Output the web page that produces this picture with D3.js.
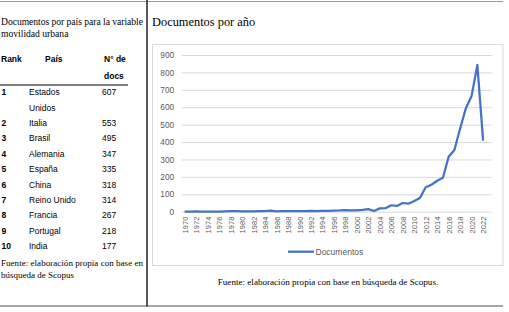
<!DOCTYPE html>
<html>
<head>
<meta charset="utf-8">
<style>
  body { margin: 0; background: #fff; }
  svg { display: block; }
  .serif { font-family: "Liberation Serif", "Times New Roman", serif; fill: #000; }
  .sans { font-family: "Liberation Sans", Arial, sans-serif; fill: #000; }
</style>
</head>
<body>
<div class="chart"></div>
<script src="https://d3js.org/d3.v7.min.js"></script>
<script>
  // datos de la tabla (izquierda)
  const ranks = ['1', '2', '3', '4', '5', '6', '7', '8', '9', '10']
  const countries = [['Estados', 'Unidos'], ['Italia'], ['Brasil'], ['Alemania'], ['España'],
                     ['China'], ['Reino Unido'], ['Francia'], ['Portugal'], ['India']]
  const docsByCountry = [607, 553, 495, 347, 335, 318, 314, 267, 218, 177]

  // datos del gráfico: documentos por año
  const years = [1970, 1971, 1972, 1973, 1974, 1975, 1976, 1977, 1978, 1979,
                 1980, 1981, 1982, 1983, 1984, 1985, 1986, 1987, 1988, 1989,
                 1990, 1991, 1992, 1993, 1994, 1995, 1996, 1997, 1998, 1999,
                 2000, 2001, 2002, 2003, 2004, 2005, 2006, 2007, 2008, 2009,
                 2010, 2011, 2012, 2013, 2014, 2015, 2016, 2017, 2018, 2019,
                 2020, 2021, 2022]
  const documentos = [1, 1, 2, 1, 1, 1, 1, 2, 3, 3,
                      2, 2, 2, 3, 3, 6, 2, 4, 3, 3,
                      4, 4, 5, 4, 5, 5, 6, 7, 9, 8,
                      8, 10, 15, 4, 19, 20, 37, 33, 50, 46,
                      61, 79, 140, 155, 178, 195, 316, 354, 478, 594,
                      665, 843, 408]
  const yTicks = [0, 100, 200, 300, 400, 500, 600, 700, 800, 900]
  const xTicks = years.filter(y => y % 2 === 0)

  const width = 509, height = 312

  const svg = d3.select('.chart')
                .append('svg')
                .attr('width', width)
                .attr('height', height)

  // marco de la página
  svg.append('line').attr('x1', 0).attr('x2', 503).attr('y1', 1.5).attr('y2', 1.5)
     .attr('stroke', '#9a9a9a').attr('stroke-width', 1.2)
  svg.append('line').attr('x1', 0).attr('x2', 503).attr('y1', 306).attr('y2', 306)
     .attr('stroke', '#8a8a8a').attr('stroke-width', 1.5)
  svg.append('line').attr('x1', 147).attr('x2', 147).attr('y1', 0).attr('y2', 306.5)
     .attr('stroke', '#222').attr('stroke-width', 1.5)

  // ---- tabla izquierda ----
  const left = svg.append('g')
  left.append('text').attr('class', 'serif').attr('x', 1).attr('y', 25)
      .attr('textLength', 142).attr('lengthAdjust', 'spacing')
      .style('font-size', '9.6px')
      .text('Documentos por país para la variable')
  left.append('text').attr('class', 'serif').attr('x', 1).attr('y', 36.5)
      .style('font-size', '9.6px')
      .text('movilidad urbana')

  const hdr = left.append('g').attr('class', 'sans').style('font-size', '8.5px').style('font-weight', 'bold')
  hdr.append('text').attr('x', 1).attr('y', 62).text('Rank')
  hdr.append('text').attr('x', 45).attr('y', 62).text('País')
  hdr.append('text').attr('x', 104).attr('y', 62).text('N° de')
  hdr.append('text').attr('x', 104).attr('y', 79).text('docs')

  left.append('line').attr('x1', 0).attr('x2', 128).attr('y1', 85).attr('y2', 85)
      .attr('stroke', '#555').attr('stroke-width', 1.6)

  // filas: la primera ocupa dos líneas
  const rowY = d3.scaleLinear().domain([1, 9]).range([126, 249.2])
  const rows = left.selectAll('.row')
                   .data(ranks)
                   .join('g')
                   .attr('class', 'row sans')
                   .style('font-size', '8.5px')
                   .attr('transform', (d, i) => `translate(0,${i === 0 ? 95 : rowY(i)})`)
  rows.append('text').attr('x', 1.5)
      .style('font-weight', 'bold').text(d => d)
  rows.append('text').attr('x', 29)
      .selectAll('tspan')
      .data((d, i) => countries[i])
      .join('tspan')
      .attr('x', 29)
      .attr('dy', (d, i) => i === 0 ? 0 : 15.5)
      .text(d => d)
  rows.append('text').attr('x', 102).text((d, i) => docsByCountry[i])

  left.append('text').attr('class', 'serif').attr('x', 1).attr('y', 266)
      .attr('textLength', 142).attr('lengthAdjust', 'spacing')
      .style('font-size', '9px')
      .text('Fuente: elaboración propia con base en')
  left.append('text').attr('class', 'serif').attr('x', 1).attr('y', 278)
      .style('font-size', '9px')
      .text('búsqueda de Scopus')

  // ---- gráfico derecho ----
  svg.append('text').attr('class', 'serif').attr('x', 152).attr('y', 26)
     .style('font-size', '12.4px').text('Documentos por año')

  svg.append('rect').attr('x', 152.5).attr('y', 44.5).attr('width', 350.5).attr('height', 221)
     .attr('fill', '#fff').attr('stroke', '#d9d9d9').attr('stroke-width', 1)

  const plotLeft = 181.7, plotRight = 491.7

  const xScale = d3.scalePoint()
                   .domain(years)
                   .range([184.6, 483.1])

  const yScale = d3.scaleLinear()
                   .domain([0, 900])
                   .range([211.7, 55])

  // líneas de cuadrícula y etiquetas del eje Y
  const yAxis = d3.axisLeft(yScale)
                  .tickValues(yTicks)
                  .tickSize(-(plotRight - plotLeft))
                  .tickPadding(7.5)
  const yAxisGroup = svg.append('g')
                        .attr('transform', `translate(${plotLeft},0)`)
                        .call(yAxis)
  yAxisGroup.select('.domain').remove()
  yAxisGroup.selectAll('line').attr('stroke', '#d9d9d9').attr('stroke-width', 1)
  yAxisGroup.selectAll('text')
            .attr('fill', '#595959')
            .style('font-family', '"Liberation Sans", Arial, sans-serif')
            .style('font-size', '8.3px')

  // eje X: años rotados
  const xAxis = d3.axisBottom(xScale)
                  .tickValues(xTicks)
                  .tickSize(0)
  const xAxisGroup = svg.append('g')
                        .attr('transform', `translate(0,${yScale(0)})`)
                        .call(xAxis)
  xAxisGroup.select('.domain').remove()
  xAxisGroup.selectAll('text')
            .attr('fill', '#595959')
            .style('font-family', '"Liberation Sans", Arial, sans-serif')
            .style('font-size', '7.5px')
            .attr('text-anchor', 'end')
            .attr('transform', 'rotate(-90)')
            .attr('x', -5)
            .attr('y', 0)
            .attr('dy', '0.35em')

  // línea de datos
  const line = d3.line()
                 .x((d, i) => xScale(years[i]))
                 .y(d => yScale(d))
  svg.append('path')
     .datum(documentos)
     .attr('fill', 'none')
     .attr('stroke', '#4472C4')
     .attr('stroke-width', 2.25)
     .attr('stroke-linejoin', 'round')
     .attr('d', line)

  // leyenda
  const legend = svg.append('g').attr('transform', 'translate(288,251.7)')
  legend.append('line').attr('x1', 0).attr('x2', 26).attr('y1', 0).attr('y2', 0)
        .attr('stroke', '#4472C4').attr('stroke-width', 2.25)
  legend.append('text').attr('x', 27.5).attr('dy', '0.35em')
        .attr('fill', '#595959')
        .style('font-family', '"Liberation Sans", Arial, sans-serif')
        .style('font-size', '8.5px')
        .text('Documentos')

  svg.append('text').attr('class', 'serif').attr('x', 328).attr('y', 284.5)
     .attr('text-anchor', 'middle').style('font-size', '9.1px')
     .text('Fuente: elaboración propia con base en búsqueda de Scopus.')
</script>
</body>
</html>
